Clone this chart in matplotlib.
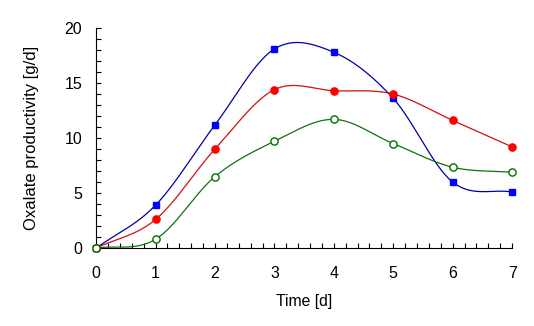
import numpy as np
import matplotlib.pyplot as plt
from matplotlib.ticker import MultipleLocator

plt.rcParams['font.family'] = ['Liberation Sans', 'DejaVu Sans']

days = [0, 1, 2, 3, 4, 5, 6, 7]
blue_vals = [0, 3.9, 11.2, 18.1, 17.8, 13.6, 6.0, 5.1]
red_vals = [0, 2.6, 9.0, 14.4, 14.3, 14.0, 11.6, 9.2]
green_vals = [0, 0.8, 6.5, 9.7, 11.7, 9.5, 7.35, 6.9]


def smooth(x, y, n=40):
    # Catmull-Rom style curve through the measured points, used only to draw the line
    x = np.asarray(x, float)
    y = np.asarray(y, float)
    m = np.gradient(y, x)
    m[0] = (y[1] - y[0]) / (x[1] - x[0])
    m[-1] = (y[-1] - y[-2]) / (x[-1] - x[-2])
    xs_all, ys_all = [], []
    for i in range(len(x) - 1):
        h = x[i + 1] - x[i]
        t = np.linspace(0, 1, n, endpoint=(i == len(x) - 2))
        h00 = 2 * t**3 - 3 * t**2 + 1
        h10 = t**3 - 2 * t**2 + t
        h01 = -2 * t**3 + 3 * t**2
        h11 = t**3 - t**2
        xs_all.append(x[i] + t * h)
        ys_all.append(h00 * y[i] + h10 * h * m[i] + h01 * y[i + 1] + h11 * h * m[i + 1])
    return np.concatenate(xs_all), np.concatenate(ys_all)


fig = plt.figure(figsize=(5.34, 3.26), dpi=100)
ax = fig.add_axes([0.18, 0.239, 0.779, 0.675])

series = [
    (blue_vals, '#0000a0', '#0000ff', 's', '#0000ff'),
    (red_vals, '#d01010', '#ff0000', 'o', '#ff0000'),
    (green_vals, '#107010', '#007000', 'o', 'white'),
]
for vals, lc, mc, m, fc in series:
    xs, ys = smooth(days, vals)
    ax.plot(xs, ys, color=lc, lw=0.9, clip_on=False)
    ax.plot(days, vals, ls='none', marker=m, ms=5 if m == 's' else 5.2,
            mfc=fc, mec=mc, mew=1, clip_on=False, zorder=3)

ax.set_xlim(0, 7)
ax.set_ylim(0, 20)
ax.spines['top'].set_visible(False)
ax.spines['right'].set_visible(False)
ax.xaxis.set_major_locator(MultipleLocator(1))
ax.xaxis.set_minor_locator(MultipleLocator(0.2))
ax.yaxis.set_major_locator(MultipleLocator(5))
ax.yaxis.set_minor_locator(MultipleLocator(1))
ax.tick_params(which='both', direction='in', length=3.5, width=0.8, labelsize=11.5)
ax.tick_params(axis='x', which='major', pad=13)
ax.tick_params(axis='y', which='major', pad=10)
ax.set_xlabel('Time [d]', fontsize=11.3, labelpad=9)
ax.set_ylabel('Oxalate productivity [g/d]', fontsize=12, labelpad=18)

fig.savefig('out.png', dpi=100)
